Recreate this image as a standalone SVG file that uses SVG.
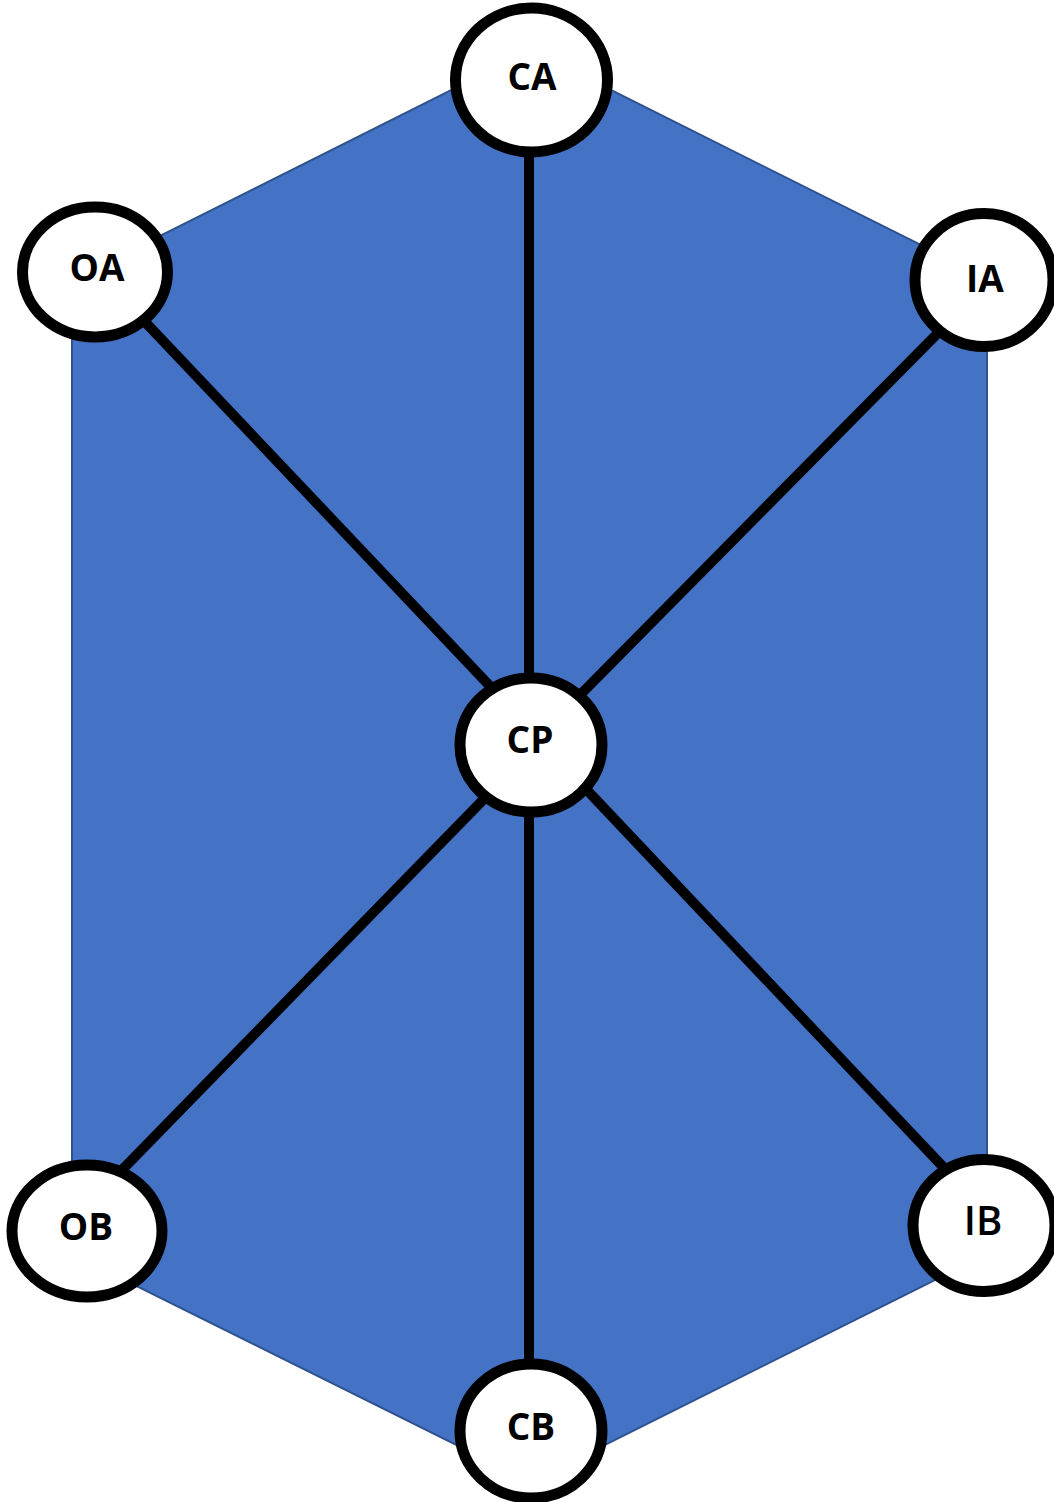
<svg xmlns="http://www.w3.org/2000/svg" width="1054" height="1502" viewBox="0 0 1054 1502">
<style>
.hex{fill:#4472C4;stroke:#2F528F;stroke-width:2}
.edge{stroke:#000;stroke-width:10;fill:none}
.node{fill:#fff;stroke:#000;stroke-width:11}
.lbl{font-family:"Open Sans","Noto Sans","Liberation Sans",sans-serif;font-weight:700;font-size:37px;fill:#000;text-anchor:middle}
</style>
<rect width="1054" height="1502" fill="#fff"/>
<polygon class="hex" points="531,50 987,278 987,1254 531,1482 72,1254 72,280"/>
<g id="connectors">
<line class="edge" x1="529" y1="100" x2="529" y2="720"/>
<line class="edge" x1="529" y1="760" x2="529" y2="1400"/>
<line class="edge" x1="120" y1="295.5" x2="510" y2="707.2"/>
<line class="edge" x1="960" y1="310.8" x2="560" y2="715.2"/>
<line class="edge" x1="510" y1="772.3" x2="100" y2="1192.5"/>
<line class="edge" x1="560" y1="761.5" x2="960" y2="1184.8"/>
</g>
<g id="CA"><ellipse class="node" cx="531.5" cy="80" rx="76" ry="72"/><text class="lbl" x="532" y="90">CA</text></g>
<g id="OA"><ellipse class="node" cx="95" cy="272" rx="72.5" ry="65"/><text class="lbl" x="97" y="281">OA</text></g>
<g id="IA"><ellipse class="node" cx="984" cy="280" rx="69" ry="66.5"/><text class="lbl" x="985" y="292">IA</text></g>
<g id="CP"><ellipse class="node" cx="531" cy="745" rx="71" ry="67"/><text class="lbl" x="530" y="753">CP</text></g>
<g id="OB"><ellipse class="node" cx="87" cy="1231" rx="75" ry="66"/><text class="lbl" x="86" y="1240">OB</text></g>
<g id="IB"><ellipse class="node" cx="984" cy="1225.5" rx="71" ry="66"/><text class="lbl" x="983" y="1235" style="font-weight:600;font-size:40px">IB</text></g>
<g id="CB"><ellipse class="node" cx="531" cy="1431" rx="71" ry="67"/><text class="lbl" x="531" y="1440">CB</text></g>
</svg>
